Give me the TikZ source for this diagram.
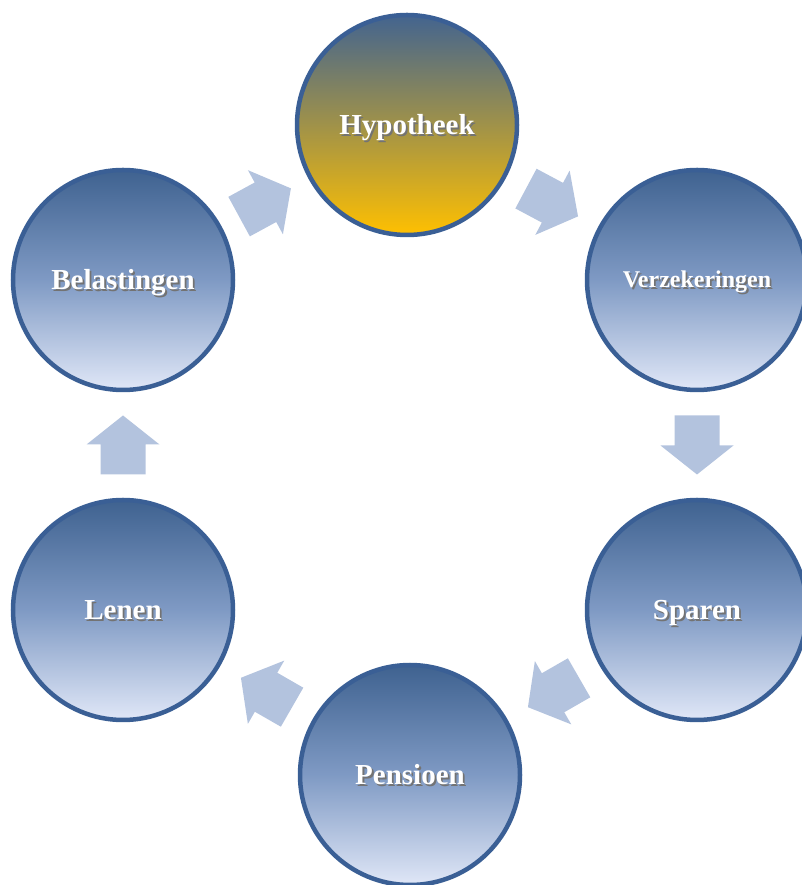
\documentclass[tikz,border=0pt]{standalone}
\usepackage{fontspec}
\setmainfont{Liberation Serif}
\usetikzlibrary{calc}
\definecolor{ringblue}{HTML}{3A5F95}
\definecolor{btop}{HTML}{3F6290}
\definecolor{bmid}{HTML}{7F9AC4}
\definecolor{bbot}{HTML}{E0E7F7}
\definecolor{htop}{HTML}{43648F}
\definecolor{hmid}{HTML}{A09249}
\definecolor{hbot}{HTML}{FFC000}
\definecolor{arrowfill}{HTML}{B3C3DE}
\pgfdeclareverticalshading{blueball}{100bp}{color(0bp)=(bbot); color(25bp)=(bbot); color(50bp)=(bmid); color(75bp)=(btop); color(100bp)=(btop)}
\pgfdeclareverticalshading{goldball}{100bp}{color(0bp)=(hbot); color(25bp)=(hbot); color(50bp)=(hmid); color(75bp)=(htop); color(100bp)=(htop)}
\newcommand{\shtxt}[1]{\makebox[0pt][l]{\hspace{1.8pt}\raisebox{-1.8pt}{\color{black!55}#1}}#1}
\tikzset{
  ball/.style={circle, minimum size=220pt, inner sep=0pt, draw=ringblue, line width=4.5pt, shading=blueball, text=white, text height=20pt, text depth=0pt, font=\bfseries\fontsize{29}{29}\selectfont},
  goldstyle/.style={shading=goldball},
  blockarrow/.pic={\fill[arrowfill] (-29.5,-22.5) -- (0.5,-22.5) -- (0.5,-36.5) -- (29.5,0) -- (0.5,36.5) -- (0.5,22.5) -- (-29.5,22.5) -- cycle;}
}
\begin{document}
\begin{tikzpicture}[x=1pt,y=1pt]
\useasboundingbox (0,0) rectangle (802,885);
\clip (0,0) rectangle (802,885);
\node[ball,goldstyle] (H) at (407,760) {\shtxt{Hypotheek}};
\node[ball,text height=16pt,font=\bfseries\fontsize{24}{24}\selectfont] (V) at (697,605) {\shtxt{Verzekeringen}};
\node[ball] (S) at (697,275) {\shtxt{Sparen}};
\node[ball] (P) at (410,110) {\shtxt{Pensioen}};
\node[ball] (L) at (123,275) {\shtxt{Lenen}};
\node[ball] (B) at (123,605) {\shtxt{Belastingen}};
\pic[rotate=28.6] at ($(B)!0.5!(H)$) {blockarrow};
\pic[rotate=-28.1] at ($(H)!0.5!(V)$) {blockarrow};
\pic[rotate=-90] at ($(V)!0.5!(S)$) {blockarrow};
\pic[rotate=209.9] at ($(S)!0.5!(P)$) {blockarrow};
\pic[rotate=150.1] at ($(P)!0.5!(L)$) {blockarrow};
\pic[rotate=90] at ($(L)!0.5!(B)$) {blockarrow};
\end{tikzpicture}
\end{document}
